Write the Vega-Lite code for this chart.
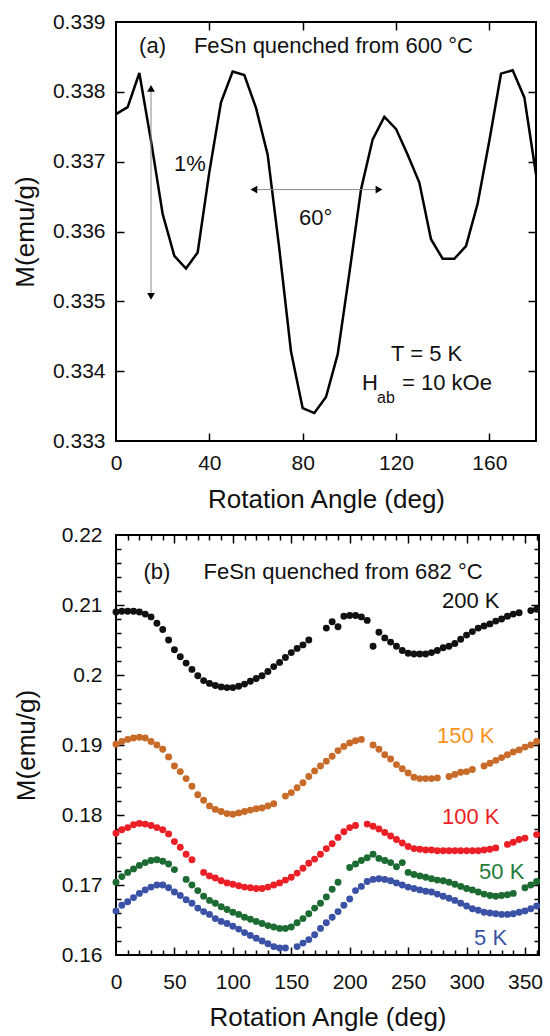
{
  "$schema": "https://vega.github.io/schema/vega-lite/v6.json",
  "background": "white",
  "padding": {"left": 11, "top": 10, "right": 5, "bottom": 2},
  "spacing": 10,
  "config": {
    "font": "Liberation Sans",
    "view": {"stroke": "black", "strokeWidth": 2},
    "axis": {
      "domain": false, "grid": false,
      "labelFont": "Liberation Sans", "labelFontSize": 21, "labelColor": "#111",
      "titleFont": "Liberation Sans", "titleFontSize": 26, "titleFontWeight": "normal", "titleColor": "#111",
      "tickColor": "black", "tickWidth": 1.5, "labelFlush": false, "labelOverlap": false
    },
    "text": {"font": "Liberation Sans", "fontSize": 22, "color": "#111"}
  },
  "datasets": {
    "a": [
      {"angle": 0, "M": 0.33768}, {"angle": 5, "M": 0.33778}, {"angle": 10, "M": 0.33827}, {"angle": 15, "M": 0.3373},
      {"angle": 20, "M": 0.33625}, {"angle": 25, "M": 0.33565}, {"angle": 30, "M": 0.33547}, {"angle": 35, "M": 0.3357},
      {"angle": 40, "M": 0.33685}, {"angle": 45, "M": 0.33785}, {"angle": 50, "M": 0.33829}, {"angle": 55, "M": 0.33824},
      {"angle": 60, "M": 0.33777}, {"angle": 65, "M": 0.3371}, {"angle": 70, "M": 0.33575}, {"angle": 75, "M": 0.33428},
      {"angle": 80, "M": 0.33347}, {"angle": 85, "M": 0.3334}, {"angle": 90, "M": 0.33363}, {"angle": 95, "M": 0.33424},
      {"angle": 100, "M": 0.3354}, {"angle": 105, "M": 0.3366}, {"angle": 110, "M": 0.33732}, {"angle": 115, "M": 0.33764},
      {"angle": 120, "M": 0.33747}, {"angle": 125, "M": 0.3371}, {"angle": 130, "M": 0.3367}, {"angle": 135, "M": 0.33589},
      {"angle": 140, "M": 0.33561}, {"angle": 145, "M": 0.33561}, {"angle": 150, "M": 0.33579}, {"angle": 155, "M": 0.3364},
      {"angle": 160, "M": 0.3373}, {"angle": 165, "M": 0.33826}, {"angle": 170, "M": 0.33831}, {"angle": 175, "M": 0.33792},
      {"angle": 180, "M": 0.33682}
    ],
    "anotes": [
      {"angle": 9.9, "M": 0.33866, "text": "(a)"},
      {"angle": 33.4, "M": 0.33866, "text": "FeSn quenched from 600 °C"},
      {"angle": 24.9, "M": 0.33697, "text": "1%"},
      {"angle": 78.4, "M": 0.33619, "text": "60°"},
      {"angle": 117.9, "M": 0.33425, "text": "T = 5 K"},
      {"angle": 105.4, "M": 0.33383, "text": "H"},
      {"angle": 122.6, "M": 0.33383, "text": "= 10 kOe"}
    ],
    "asub": [
      {"angle": 111.9, "M": 0.33362, "text": "ab"}
    ],
    "vArrow": [{"angle": 15, "y1": 0.33505, "y2": 0.33808}],
    "hArrow": [{"a1": 58, "a2": 114, "M": 0.3366}],
    "heads": [
      {"angle": 15, "M": 0.33805, "dir": "up"},
      {"angle": 15, "M": 0.33507, "dir": "down"},
      {"angle": 59.1, "M": 0.3366, "dir": "left"},
      {"angle": 112.7, "M": 0.3366, "dir": "right"}
    ],
    "b": [
      {"series": "200 K", "angle": 0, "M": 0.209}, {"series": "200 K", "angle": 5, "M": 0.2091}, {"series": "200 K", "angle": 10, "M": 0.2091},
      {"series": "200 K", "angle": 15, "M": 0.2091}, {"series": "200 K", "angle": 20, "M": 0.209}, {"series": "200 K", "angle": 25, "M": 0.2087},
      {"series": "200 K", "angle": 30, "M": 0.2083}, {"series": "200 K", "angle": 35, "M": 0.2074}, {"series": "200 K", "angle": 40, "M": 0.2065},
      {"series": "200 K", "angle": 45, "M": 0.205}, {"series": "200 K", "angle": 50, "M": 0.2036}, {"series": "200 K", "angle": 55, "M": 0.2026},
      {"series": "200 K", "angle": 60, "M": 0.2017}, {"series": "200 K", "angle": 65, "M": 0.2008}, {"series": "200 K", "angle": 70, "M": 0.1999},
      {"series": "200 K", "angle": 75, "M": 0.1992}, {"series": "200 K", "angle": 80, "M": 0.1988}, {"series": "200 K", "angle": 85, "M": 0.1985},
      {"series": "200 K", "angle": 90, "M": 0.1983}, {"series": "200 K", "angle": 95, "M": 0.1982}, {"series": "200 K", "angle": 100, "M": 0.1982},
      {"series": "200 K", "angle": 105, "M": 0.1984}, {"series": "200 K", "angle": 110, "M": 0.1987}, {"series": "200 K", "angle": 115, "M": 0.1991},
      {"series": "200 K", "angle": 120, "M": 0.1995}, {"series": "200 K", "angle": 125, "M": 0.1999}, {"series": "200 K", "angle": 130, "M": 0.2005},
      {"series": "200 K", "angle": 135, "M": 0.2012}, {"series": "200 K", "angle": 140, "M": 0.2018}, {"series": "200 K", "angle": 145, "M": 0.2025},
      {"series": "200 K", "angle": 150, "M": 0.2032}, {"series": "200 K", "angle": 155, "M": 0.2038}, {"series": "200 K", "angle": 160, "M": 0.2043},
      {"series": "200 K", "angle": 165, "M": 0.205}, {"series": "200 K", "angle": 180, "M": 0.2067}, {"series": "200 K", "angle": 185, "M": 0.2076},
      {"series": "200 K", "angle": 190, "M": 0.2069}, {"series": "200 K", "angle": 195, "M": 0.2084}, {"series": "200 K", "angle": 200, "M": 0.2085},
      {"series": "200 K", "angle": 205, "M": 0.2085}, {"series": "200 K", "angle": 210, "M": 0.2083}, {"series": "200 K", "angle": 215, "M": 0.2078},
      {"series": "200 K", "angle": 220, "M": 0.2041}, {"series": "200 K", "angle": 225, "M": 0.2061}, {"series": "200 K", "angle": 230, "M": 0.2053},
      {"series": "200 K", "angle": 235, "M": 0.2047}, {"series": "200 K", "angle": 240, "M": 0.2041}, {"series": "200 K", "angle": 245, "M": 0.2035},
      {"series": "200 K", "angle": 250, "M": 0.2031}, {"series": "200 K", "angle": 255, "M": 0.203}, {"series": "200 K", "angle": 260, "M": 0.203},
      {"series": "200 K", "angle": 265, "M": 0.203}, {"series": "200 K", "angle": 270, "M": 0.2032}, {"series": "200 K", "angle": 275, "M": 0.2035},
      {"series": "200 K", "angle": 280, "M": 0.2039}, {"series": "200 K", "angle": 285, "M": 0.2041}, {"series": "200 K", "angle": 290, "M": 0.2045},
      {"series": "200 K", "angle": 295, "M": 0.2051}, {"series": "200 K", "angle": 300, "M": 0.2057}, {"series": "200 K", "angle": 305, "M": 0.2062},
      {"series": "200 K", "angle": 310, "M": 0.2067}, {"series": "200 K", "angle": 315, "M": 0.207}, {"series": "200 K", "angle": 320, "M": 0.2073},
      {"series": "200 K", "angle": 325, "M": 0.2077}, {"series": "200 K", "angle": 330, "M": 0.208}, {"series": "200 K", "angle": 335, "M": 0.2084},
      {"series": "200 K", "angle": 340, "M": 0.2087}, {"series": "200 K", "angle": 345, "M": 0.2089}, {"series": "200 K", "angle": 355, "M": 0.2092},
      {"series": "200 K", "angle": 360, "M": 0.2094},

      {"series": "150 K", "angle": 0, "M": 0.1901}, {"series": "150 K", "angle": 5, "M": 0.1905}, {"series": "150 K", "angle": 10, "M": 0.1908},
      {"series": "150 K", "angle": 15, "M": 0.191}, {"series": "150 K", "angle": 20, "M": 0.1911}, {"series": "150 K", "angle": 25, "M": 0.191},
      {"series": "150 K", "angle": 30, "M": 0.1905}, {"series": "150 K", "angle": 35, "M": 0.19}, {"series": "150 K", "angle": 40, "M": 0.1894},
      {"series": "150 K", "angle": 45, "M": 0.1883}, {"series": "150 K", "angle": 50, "M": 0.187}, {"series": "150 K", "angle": 55, "M": 0.1862},
      {"series": "150 K", "angle": 60, "M": 0.1852}, {"series": "150 K", "angle": 65, "M": 0.1841}, {"series": "150 K", "angle": 70, "M": 0.1829},
      {"series": "150 K", "angle": 75, "M": 0.1821}, {"series": "150 K", "angle": 80, "M": 0.1813}, {"series": "150 K", "angle": 85, "M": 0.1808},
      {"series": "150 K", "angle": 90, "M": 0.1805}, {"series": "150 K", "angle": 95, "M": 0.1802}, {"series": "150 K", "angle": 100, "M": 0.1801},
      {"series": "150 K", "angle": 105, "M": 0.1803}, {"series": "150 K", "angle": 110, "M": 0.1805}, {"series": "150 K", "angle": 115, "M": 0.1807},
      {"series": "150 K", "angle": 120, "M": 0.1809}, {"series": "150 K", "angle": 125, "M": 0.181}, {"series": "150 K", "angle": 130, "M": 0.1813},
      {"series": "150 K", "angle": 135, "M": 0.1816}, {"series": "150 K", "angle": 145, "M": 0.1827}, {"series": "150 K", "angle": 150, "M": 0.1832},
      {"series": "150 K", "angle": 155, "M": 0.1839}, {"series": "150 K", "angle": 160, "M": 0.1846}, {"series": "150 K", "angle": 165, "M": 0.1855},
      {"series": "150 K", "angle": 170, "M": 0.1863}, {"series": "150 K", "angle": 175, "M": 0.187}, {"series": "150 K", "angle": 180, "M": 0.1877},
      {"series": "150 K", "angle": 185, "M": 0.1884}, {"series": "150 K", "angle": 190, "M": 0.1892}, {"series": "150 K", "angle": 195, "M": 0.1898},
      {"series": "150 K", "angle": 200, "M": 0.1903}, {"series": "150 K", "angle": 205, "M": 0.1906}, {"series": "150 K", "angle": 210, "M": 0.1908},
      {"series": "150 K", "angle": 220, "M": 0.19}, {"series": "150 K", "angle": 225, "M": 0.1894}, {"series": "150 K", "angle": 230, "M": 0.1886},
      {"series": "150 K", "angle": 235, "M": 0.188}, {"series": "150 K", "angle": 240, "M": 0.1872}, {"series": "150 K", "angle": 245, "M": 0.1866},
      {"series": "150 K", "angle": 250, "M": 0.186}, {"series": "150 K", "angle": 255, "M": 0.1854}, {"series": "150 K", "angle": 260, "M": 0.1852},
      {"series": "150 K", "angle": 265, "M": 0.1852}, {"series": "150 K", "angle": 270, "M": 0.1852}, {"series": "150 K", "angle": 275, "M": 0.1853},
      {"series": "150 K", "angle": 285, "M": 0.1855}, {"series": "150 K", "angle": 290, "M": 0.1858}, {"series": "150 K", "angle": 295, "M": 0.1861},
      {"series": "150 K", "angle": 300, "M": 0.1862}, {"series": "150 K", "angle": 305, "M": 0.1865}, {"series": "150 K", "angle": 315, "M": 0.187},
      {"series": "150 K", "angle": 320, "M": 0.1874}, {"series": "150 K", "angle": 325, "M": 0.1878}, {"series": "150 K", "angle": 330, "M": 0.1882},
      {"series": "150 K", "angle": 335, "M": 0.1886}, {"series": "150 K", "angle": 340, "M": 0.189}, {"series": "150 K", "angle": 345, "M": 0.1893},
      {"series": "150 K", "angle": 350, "M": 0.1897}, {"series": "150 K", "angle": 355, "M": 0.19}, {"series": "150 K", "angle": 360, "M": 0.1905},

      {"series": "100 K", "angle": 0, "M": 0.1774}, {"series": "100 K", "angle": 5, "M": 0.1779}, {"series": "100 K", "angle": 10, "M": 0.1782},
      {"series": "100 K", "angle": 15, "M": 0.1786}, {"series": "100 K", "angle": 20, "M": 0.1788}, {"series": "100 K", "angle": 25, "M": 0.1787},
      {"series": "100 K", "angle": 30, "M": 0.1785}, {"series": "100 K", "angle": 35, "M": 0.1782}, {"series": "100 K", "angle": 40, "M": 0.1779},
      {"series": "100 K", "angle": 45, "M": 0.1773}, {"series": "100 K", "angle": 50, "M": 0.1762}, {"series": "100 K", "angle": 55, "M": 0.1754},
      {"series": "100 K", "angle": 60, "M": 0.1744}, {"series": "100 K", "angle": 65, "M": 0.1736}, {"series": "100 K", "angle": 75, "M": 0.1718},
      {"series": "100 K", "angle": 80, "M": 0.1713}, {"series": "100 K", "angle": 85, "M": 0.171}, {"series": "100 K", "angle": 90, "M": 0.1706},
      {"series": "100 K", "angle": 95, "M": 0.1703}, {"series": "100 K", "angle": 100, "M": 0.1701}, {"series": "100 K", "angle": 105, "M": 0.1699},
      {"series": "100 K", "angle": 110, "M": 0.1697}, {"series": "100 K", "angle": 115, "M": 0.1696}, {"series": "100 K", "angle": 120, "M": 0.1695},
      {"series": "100 K", "angle": 125, "M": 0.1695}, {"series": "100 K", "angle": 130, "M": 0.1697}, {"series": "100 K", "angle": 135, "M": 0.17},
      {"series": "100 K", "angle": 140, "M": 0.1703}, {"series": "100 K", "angle": 145, "M": 0.1707}, {"series": "100 K", "angle": 150, "M": 0.1711},
      {"series": "100 K", "angle": 155, "M": 0.1717}, {"series": "100 K", "angle": 160, "M": 0.1724}, {"series": "100 K", "angle": 165, "M": 0.1731},
      {"series": "100 K", "angle": 170, "M": 0.1737}, {"series": "100 K", "angle": 175, "M": 0.1744}, {"series": "100 K", "angle": 180, "M": 0.1752},
      {"series": "100 K", "angle": 185, "M": 0.1759}, {"series": "100 K", "angle": 190, "M": 0.1768}, {"series": "100 K", "angle": 195, "M": 0.1776},
      {"series": "100 K", "angle": 200, "M": 0.1782}, {"series": "100 K", "angle": 205, "M": 0.1785}, {"series": "100 K", "angle": 215, "M": 0.1787},
      {"series": "100 K", "angle": 220, "M": 0.1784}, {"series": "100 K", "angle": 225, "M": 0.178}, {"series": "100 K", "angle": 230, "M": 0.1775},
      {"series": "100 K", "angle": 235, "M": 0.177}, {"series": "100 K", "angle": 240, "M": 0.1765}, {"series": "100 K", "angle": 245, "M": 0.176},
      {"series": "100 K", "angle": 250, "M": 0.1755}, {"series": "100 K", "angle": 255, "M": 0.1752}, {"series": "100 K", "angle": 260, "M": 0.1751},
      {"series": "100 K", "angle": 265, "M": 0.175}, {"series": "100 K", "angle": 270, "M": 0.175}, {"series": "100 K", "angle": 275, "M": 0.1749},
      {"series": "100 K", "angle": 280, "M": 0.1749}, {"series": "100 K", "angle": 285, "M": 0.1749}, {"series": "100 K", "angle": 290, "M": 0.1749},
      {"series": "100 K", "angle": 295, "M": 0.1749}, {"series": "100 K", "angle": 300, "M": 0.1749}, {"series": "100 K", "angle": 305, "M": 0.1749},
      {"series": "100 K", "angle": 310, "M": 0.1749}, {"series": "100 K", "angle": 315, "M": 0.175}, {"series": "100 K", "angle": 320, "M": 0.1751},
      {"series": "100 K", "angle": 325, "M": 0.1753}, {"series": "100 K", "angle": 335, "M": 0.1758}, {"series": "100 K", "angle": 340, "M": 0.1761},
      {"series": "100 K", "angle": 345, "M": 0.1765}, {"series": "100 K", "angle": 350, "M": 0.1767}, {"series": "100 K", "angle": 360, "M": 0.1772},

      {"series": "50 K", "angle": 0, "M": 0.1704}, {"series": "50 K", "angle": 5, "M": 0.1712}, {"series": "50 K", "angle": 10, "M": 0.1718},
      {"series": "50 K", "angle": 15, "M": 0.1723}, {"series": "50 K", "angle": 20, "M": 0.1728}, {"series": "50 K", "angle": 25, "M": 0.1732},
      {"series": "50 K", "angle": 30, "M": 0.1735}, {"series": "50 K", "angle": 35, "M": 0.1736}, {"series": "50 K", "angle": 40, "M": 0.1734},
      {"series": "50 K", "angle": 45, "M": 0.173}, {"series": "50 K", "angle": 50, "M": 0.1722}, {"series": "50 K", "angle": 60, "M": 0.1708},
      {"series": "50 K", "angle": 65, "M": 0.17}, {"series": "50 K", "angle": 70, "M": 0.1692}, {"series": "50 K", "angle": 75, "M": 0.1684},
      {"series": "50 K", "angle": 80, "M": 0.1678}, {"series": "50 K", "angle": 85, "M": 0.1674}, {"series": "50 K", "angle": 90, "M": 0.1669},
      {"series": "50 K", "angle": 95, "M": 0.1665}, {"series": "50 K", "angle": 100, "M": 0.1661}, {"series": "50 K", "angle": 105, "M": 0.1658},
      {"series": "50 K", "angle": 110, "M": 0.1654}, {"series": "50 K", "angle": 115, "M": 0.1651}, {"series": "50 K", "angle": 120, "M": 0.1648},
      {"series": "50 K", "angle": 125, "M": 0.1645}, {"series": "50 K", "angle": 130, "M": 0.1642}, {"series": "50 K", "angle": 135, "M": 0.164},
      {"series": "50 K", "angle": 140, "M": 0.1638}, {"series": "50 K", "angle": 145, "M": 0.1638}, {"series": "50 K", "angle": 150, "M": 0.164},
      {"series": "50 K", "angle": 155, "M": 0.1646}, {"series": "50 K", "angle": 160, "M": 0.1652}, {"series": "50 K", "angle": 165, "M": 0.1659},
      {"series": "50 K", "angle": 170, "M": 0.1667}, {"series": "50 K", "angle": 175, "M": 0.1674}, {"series": "50 K", "angle": 180, "M": 0.1683},
      {"series": "50 K", "angle": 185, "M": 0.1694}, {"series": "50 K", "angle": 190, "M": 0.1704}, {"series": "50 K", "angle": 200, "M": 0.1725},
      {"series": "50 K", "angle": 205, "M": 0.173}, {"series": "50 K", "angle": 210, "M": 0.1735}, {"series": "50 K", "angle": 215, "M": 0.1739},
      {"series": "50 K", "angle": 220, "M": 0.1744}, {"series": "50 K", "angle": 225, "M": 0.1738}, {"series": "50 K", "angle": 230, "M": 0.1735},
      {"series": "50 K", "angle": 235, "M": 0.1732}, {"series": "50 K", "angle": 240, "M": 0.1726}, {"series": "50 K", "angle": 245, "M": 0.1732},
      {"series": "50 K", "angle": 250, "M": 0.1718}, {"series": "50 K", "angle": 255, "M": 0.1715}, {"series": "50 K", "angle": 260, "M": 0.1713},
      {"series": "50 K", "angle": 265, "M": 0.1711}, {"series": "50 K", "angle": 270, "M": 0.1709}, {"series": "50 K", "angle": 275, "M": 0.1707},
      {"series": "50 K", "angle": 280, "M": 0.1706}, {"series": "50 K", "angle": 285, "M": 0.1704}, {"series": "50 K", "angle": 290, "M": 0.1701},
      {"series": "50 K", "angle": 295, "M": 0.1698}, {"series": "50 K", "angle": 300, "M": 0.1695}, {"series": "50 K", "angle": 305, "M": 0.1693},
      {"series": "50 K", "angle": 310, "M": 0.169}, {"series": "50 K", "angle": 315, "M": 0.1687}, {"series": "50 K", "angle": 320, "M": 0.1685},
      {"series": "50 K", "angle": 325, "M": 0.1684}, {"series": "50 K", "angle": 330, "M": 0.1685}, {"series": "50 K", "angle": 335, "M": 0.1686},
      {"series": "50 K", "angle": 340, "M": 0.1688}, {"series": "50 K", "angle": 350, "M": 0.1696}, {"series": "50 K", "angle": 355, "M": 0.17},
      {"series": "50 K", "angle": 360, "M": 0.1705},

      {"series": "5 K", "angle": 0, "M": 0.1663}, {"series": "5 K", "angle": 5, "M": 0.1671}, {"series": "5 K", "angle": 10, "M": 0.1676},
      {"series": "5 K", "angle": 15, "M": 0.1682}, {"series": "5 K", "angle": 20, "M": 0.1688}, {"series": "5 K", "angle": 25, "M": 0.1693},
      {"series": "5 K", "angle": 30, "M": 0.1697}, {"series": "5 K", "angle": 35, "M": 0.17}, {"series": "5 K", "angle": 40, "M": 0.17},
      {"series": "5 K", "angle": 45, "M": 0.1696}, {"series": "5 K", "angle": 50, "M": 0.169}, {"series": "5 K", "angle": 55, "M": 0.1685},
      {"series": "5 K", "angle": 60, "M": 0.1679}, {"series": "5 K", "angle": 65, "M": 0.1674}, {"series": "5 K", "angle": 70, "M": 0.1667},
      {"series": "5 K", "angle": 75, "M": 0.1662}, {"series": "5 K", "angle": 80, "M": 0.1658}, {"series": "5 K", "angle": 85, "M": 0.1652},
      {"series": "5 K", "angle": 90, "M": 0.1648}, {"series": "5 K", "angle": 95, "M": 0.1645}, {"series": "5 K", "angle": 100, "M": 0.1641},
      {"series": "5 K", "angle": 105, "M": 0.1637}, {"series": "5 K", "angle": 110, "M": 0.1632}, {"series": "5 K", "angle": 115, "M": 0.1628},
      {"series": "5 K", "angle": 120, "M": 0.1624}, {"series": "5 K", "angle": 125, "M": 0.162}, {"series": "5 K", "angle": 130, "M": 0.1616},
      {"series": "5 K", "angle": 135, "M": 0.1612}, {"series": "5 K", "angle": 140, "M": 0.161}, {"series": "5 K", "angle": 145, "M": 0.161},
      {"series": "5 K", "angle": 155, "M": 0.1612}, {"series": "5 K", "angle": 160, "M": 0.1617}, {"series": "5 K", "angle": 165, "M": 0.1622},
      {"series": "5 K", "angle": 170, "M": 0.1629}, {"series": "5 K", "angle": 175, "M": 0.1638}, {"series": "5 K", "angle": 180, "M": 0.1646},
      {"series": "5 K", "angle": 185, "M": 0.1654}, {"series": "5 K", "angle": 190, "M": 0.1662}, {"series": "5 K", "angle": 195, "M": 0.1671},
      {"series": "5 K", "angle": 200, "M": 0.168}, {"series": "5 K", "angle": 205, "M": 0.1692}, {"series": "5 K", "angle": 210, "M": 0.1698},
      {"series": "5 K", "angle": 215, "M": 0.1705}, {"series": "5 K", "angle": 220, "M": 0.1708}, {"series": "5 K", "angle": 225, "M": 0.1709},
      {"series": "5 K", "angle": 230, "M": 0.1708}, {"series": "5 K", "angle": 235, "M": 0.1706}, {"series": "5 K", "angle": 240, "M": 0.1703},
      {"series": "5 K", "angle": 245, "M": 0.17}, {"series": "5 K", "angle": 250, "M": 0.1697}, {"series": "5 K", "angle": 255, "M": 0.1695},
      {"series": "5 K", "angle": 260, "M": 0.1693}, {"series": "5 K", "angle": 265, "M": 0.1691}, {"series": "5 K", "angle": 270, "M": 0.169},
      {"series": "5 K", "angle": 275, "M": 0.1687}, {"series": "5 K", "angle": 280, "M": 0.1684}, {"series": "5 K", "angle": 285, "M": 0.1681},
      {"series": "5 K", "angle": 290, "M": 0.1678}, {"series": "5 K", "angle": 295, "M": 0.1674}, {"series": "5 K", "angle": 300, "M": 0.167},
      {"series": "5 K", "angle": 305, "M": 0.1666}, {"series": "5 K", "angle": 310, "M": 0.1664}, {"series": "5 K", "angle": 315, "M": 0.1661},
      {"series": "5 K", "angle": 320, "M": 0.166}, {"series": "5 K", "angle": 325, "M": 0.1659}, {"series": "5 K", "angle": 330, "M": 0.1658},
      {"series": "5 K", "angle": 335, "M": 0.1658}, {"series": "5 K", "angle": 340, "M": 0.1659}, {"series": "5 K", "angle": 345, "M": 0.1661},
      {"series": "5 K", "angle": 350, "M": 0.1663}, {"series": "5 K", "angle": 355, "M": 0.1666}, {"series": "5 K", "angle": 360, "M": 0.167}
    ],
    "bnotes": [
      {"angle": 23.5, "M": 0.2147, "text": "(b)"},
      {"angle": 74.9, "M": 0.2147, "text": "FeSn quenched from 682 °C"}
    ],
    "blabels": [
      {"series": "200 K", "angle": 279, "M": 0.2106},
      {"series": "150 K", "angle": 274.7, "M": 0.1913},
      {"series": "100 K", "angle": 279, "M": 0.1797},
      {"series": "50 K", "angle": 310.7, "M": 0.1719},
      {"series": "5 K", "angle": 306.4, "M": 0.1624}
    ]
  },
  "vconcat": [
    {
      "width": 420,
      "height": 419,
      "layer": [
        {
          "data": {"name": "anotes"},
          "mark": {"type": "point", "opacity": 0},
          "encoding": {
            "x": {"field": "angle", "type": "quantitative", "scale": {"domain": [0, 180], "nice": false},
                  "axis": {"orient": "bottom", "labels": false, "title": null, "values": [40, 80, 120, 160], "tickSize": 8, "offset": -8}},
            "y": {"field": "M", "type": "quantitative", "scale": {"domain": [0.333, 0.339], "nice": false, "zero": false},
                  "axis": {"orient": "left", "labels": false, "title": null, "values": [0.334, 0.335, 0.336, 0.337, 0.338], "tickSize": 8, "offset": -8}}
          }
        },
        {
          "data": {"name": "anotes"},
          "mark": {"type": "point", "opacity": 0},
          "encoding": {
            "x": {"field": "angle", "type": "quantitative",
                  "axis": {"orient": "top", "labels": false, "title": null, "values": [40, 80, 120, 160], "tickSize": 8, "offset": -8}},
            "y": {"field": "M", "type": "quantitative",
                  "axis": {"orient": "right", "labels": false, "title": null, "values": [0.334, 0.335, 0.336, 0.337, 0.338], "tickSize": 8, "offset": -8}}
          }
        },
        {
          "data": {"name": "a"},
          "mark": {"type": "line", "color": "black", "strokeWidth": 2.5},
          "encoding": {
            "x": {"field": "angle", "type": "quantitative",
                  "axis": {"orient": "bottom", "title": "Rotation Angle (deg)", "values": [0, 40, 80, 120, 160], "ticks": false, "labelPadding": 11, "titlePadding": 13}},
            "y": {"field": "M", "type": "quantitative",
                  "axis": {"orient": "left", "title": "M(emu/g)", "values": [0.333, 0.334, 0.335, 0.336, 0.337, 0.338, 0.339], "format": ".3f", "ticks": false, "labelPadding": 11, "titlePadding": 14}}
          }
        },
        {
          "data": {"name": "vArrow"},
          "mark": {"type": "rule", "color": "#888888", "strokeWidth": 1},
          "encoding": {
            "x": {"field": "angle", "type": "quantitative", "axis": null},
            "y": {"field": "y1", "type": "quantitative", "axis": null},
            "y2": {"field": "y2"}
          }
        },
        {
          "data": {"name": "hArrow"},
          "mark": {"type": "rule", "color": "#888888", "strokeWidth": 1},
          "encoding": {
            "x": {"field": "a1", "type": "quantitative", "axis": null},
            "x2": {"field": "a2"},
            "y": {"field": "M", "type": "quantitative", "axis": null}
          }
        },
        {
          "data": {"name": "heads"},
          "mark": {"type": "point", "filled": true, "color": "black", "opacity": 1, "size": 60},
          "encoding": {
            "x": {"field": "angle", "type": "quantitative", "axis": null},
            "y": {"field": "M", "type": "quantitative", "axis": null},
            "shape": {"field": "dir", "type": "nominal", "legend": null,
                      "scale": {"domain": ["up", "down", "left", "right"], "range": ["triangle-up", "triangle-down", "triangle-left", "triangle-right"]}}
          }
        },
        {
          "data": {"name": "anotes"},
          "mark": {"type": "text", "align": "left", "baseline": "middle", "fontSize": 22, "color": "#111"},
          "encoding": {
            "x": {"field": "angle", "type": "quantitative", "axis": null},
            "y": {"field": "M", "type": "quantitative", "axis": null},
            "text": {"field": "text"}
          }
        },
        {
          "data": {"name": "asub"},
          "mark": {"type": "text", "align": "left", "baseline": "middle", "fontSize": 16, "color": "#111"},
          "encoding": {
            "x": {"field": "angle", "type": "quantitative", "axis": null},
            "y": {"field": "M", "type": "quantitative", "axis": null},
            "text": {"field": "text"}
          }
        }
      ],
      "resolve": {"axis": {"x": "independent", "y": "independent"}}
    },
    {
      "width": 423,
      "height": 420,
      "layer": [
        {
          "data": {"name": "bnotes"},
          "mark": {"type": "point", "opacity": 0},
          "encoding": {
            "x": {"field": "angle", "type": "quantitative", "scale": {"domain": [0, 362], "nice": false},
                  "axis": {"orient": "bottom", "labels": false, "title": null, "values": [50, 100, 150, 200, 250, 300, 350], "tickSize": 8, "offset": -8}},
            "y": {"field": "M", "type": "quantitative", "scale": {"domain": [0.16, 0.22], "nice": false, "zero": false},
                  "axis": {"orient": "left", "labels": false, "title": null, "values": [0.17, 0.18, 0.19, 0.2, 0.21], "tickSize": 8, "offset": -8}}
          }
        },
        {
          "data": {"name": "bnotes"},
          "mark": {"type": "point", "opacity": 0},
          "encoding": {
            "x": {"field": "angle", "type": "quantitative",
                  "axis": {"orient": "bottom", "labels": false, "title": null, "values": [10, 20, 30, 40, 60, 70, 80, 90, 110, 120, 130, 140, 160, 170, 180, 190, 210, 220, 230, 240, 260, 270, 280, 290, 310, 320, 330, 340, 360], "tickSize": 5, "offset": -5}},
            "y": {"field": "M", "type": "quantitative",
                  "axis": {"orient": "left", "labels": false, "title": null, "values": [0.162, 0.164, 0.166, 0.168, 0.172, 0.174, 0.176, 0.178, 0.182, 0.184, 0.186, 0.188, 0.192, 0.194, 0.196, 0.198, 0.202, 0.204, 0.206, 0.208, 0.212, 0.214, 0.216, 0.218], "tickSize": 5, "offset": -5}}
          }
        },
        {
          "data": {"name": "bnotes"},
          "mark": {"type": "point", "opacity": 0},
          "encoding": {
            "x": {"field": "angle", "type": "quantitative",
                  "axis": {"orient": "top", "labels": false, "title": null, "values": [50, 100, 150, 200, 250, 300, 350], "tickSize": 8, "offset": -8}},
            "y": {"field": "M", "type": "quantitative",
                  "axis": {"orient": "right", "labels": false, "title": null, "values": [0.17, 0.18, 0.19, 0.2, 0.21], "tickSize": 8, "offset": -8}}
          }
        },
        {
          "data": {"name": "bnotes"},
          "mark": {"type": "point", "opacity": 0},
          "encoding": {
            "x": {"field": "angle", "type": "quantitative",
                  "axis": {"orient": "top", "labels": false, "title": null, "values": [10, 20, 30, 40, 60, 70, 80, 90, 110, 120, 130, 140, 160, 170, 180, 190, 210, 220, 230, 240, 260, 270, 280, 290, 310, 320, 330, 340, 360], "tickSize": 5, "offset": -5}},
            "y": {"field": "M", "type": "quantitative",
                  "axis": {"orient": "right", "labels": false, "title": null, "values": [0.162, 0.164, 0.166, 0.168, 0.172, 0.174, 0.176, 0.178, 0.182, 0.184, 0.186, 0.188, 0.192, 0.194, 0.196, 0.198, 0.202, 0.204, 0.206, 0.208, 0.212, 0.214, 0.216, 0.218], "tickSize": 5, "offset": -5}}
          }
        },
        {
          "data": {"name": "b"},
          "mark": {"type": "circle", "size": 48, "opacity": 1},
          "encoding": {
            "x": {"field": "angle", "type": "quantitative",
                  "axis": {"orient": "bottom", "title": "Rotation Angle (deg)", "values": [0, 50, 100, 150, 200, 250, 300, 350], "ticks": false, "labelPadding": 16, "titlePadding": 12}},
            "y": {"field": "M", "type": "quantitative",
                  "axis": {"orient": "left", "title": "M(emu/g)", "values": [0.16, 0.17, 0.18, 0.19, 0.2, 0.21, 0.22], "format": "~g", "ticks": false, "labelPadding": 14, "titlePadding": 22}},
            "color": {"field": "series", "type": "nominal", "legend": null,
                      "scale": {"domain": ["200 K", "150 K", "100 K", "50 K", "5 K"], "range": ["#111111", "#C86A28", "#EC1F26", "#1C6B32", "#3A51A6"]}}
          }
        },
        {
          "data": {"name": "blabels"},
          "mark": {"type": "text", "align": "left", "baseline": "middle", "fontSize": 22},
          "encoding": {
            "x": {"field": "angle", "type": "quantitative", "axis": null},
            "y": {"field": "M", "type": "quantitative", "axis": null},
            "text": {"field": "series"},
            "color": {"field": "series", "type": "nominal", "legend": null,
                      "scale": {"domain": ["200 K", "150 K", "100 K", "50 K", "5 K"], "range": ["#111111", "#F7941D", "#ED1C24", "#1E7B3A", "#3953A4"]}}
          }
        },
        {
          "data": {"name": "bnotes"},
          "mark": {"type": "text", "align": "left", "baseline": "middle", "fontSize": 22, "color": "#111"},
          "encoding": {
            "x": {"field": "angle", "type": "quantitative", "axis": null},
            "y": {"field": "M", "type": "quantitative", "axis": null},
            "text": {"field": "text"}
          }
        }
      ],
      "resolve": {"axis": {"x": "independent", "y": "independent"}, "scale": {"color": "independent"}}
    }
  ]
}
